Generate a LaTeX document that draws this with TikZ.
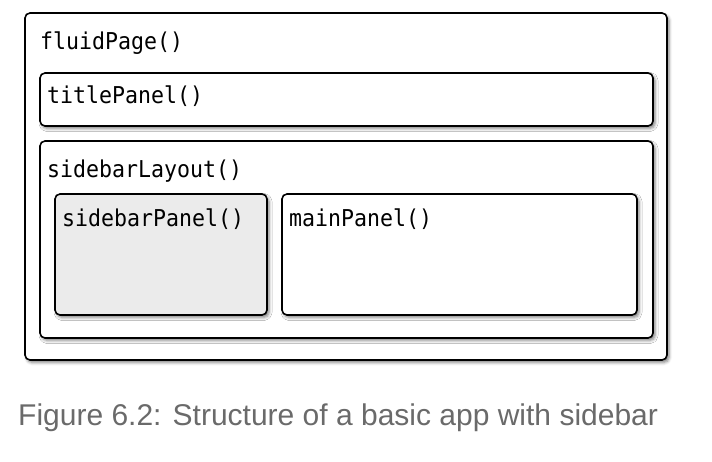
\documentclass[tikz,border=0pt]{standalone}
\usepackage{fontspec}
\setmainfont{Liberation Sans}
\newfontfamily\codefont{DejaVu Sans Mono}
\usetikzlibrary{shadows.blur}
\definecolor{panelgrey}{HTML}{EBEBEB}
\definecolor{captiongrey}{HTML}{6A6A6A}
% monospace labels, slightly condensed
\newcommand{\codetext}[1]{\scalebox{0.93}[1]{\codefont\fontsize{23.2}{28}\selectfont #1}}
\begin{document}
\begin{tikzpicture}[x=1pt,y=-1pt,
  panel/.style={draw=black, line width=1.6pt, rounded corners=5pt, fill=white,
    rectangle, inner sep=0pt, outer sep=0pt, anchor=north west,
    blur shadow={shadow xshift=2pt, shadow yshift=-2.5pt, shadow blur radius=3pt, shadow opacity=50}},
  code/.style={inner sep=0pt, anchor=base west},
  caption/.style={font=\fontsize{30}{36}\selectfont, text=captiongrey, inner sep=0pt, anchor=base west}]
  \useasboundingbox (0,0) rectangle (712,462);

  % nested layout boxes
  \node[panel, minimum width=642pt, minimum height=347pt] (fluid) at (25,13) {};
  \node[panel, minimum width=613pt, minimum height=53pt] (title) at (40,73) {};
  \node[panel, minimum width=613pt, minimum height=197pt] (layout) at (40,141) {};
  \node[panel, fill=panelgrey, minimum width=212pt, minimum height=121pt] (sidebar) at (55,194) {};
  \node[panel, minimum width=355pt, minimum height=121pt] (main) at (282,194) {};

  % function names
  \node[code] (fluidlbl) at (40,50) {\codetext{fluidPage()}};
  \node[code] (titlelbl) at (47,104) {\codetext{titlePanel()}};
  \node[code] (layoutlbl) at (47,178) {\codetext{sidebarLayout()}};
  \node[code] (sidebarlbl) at (62,227) {\codetext{sidebarPanel()}};
  \node[code] (mainlbl) at (289,227) {\codetext{mainPanel()}};

  % caption
  \node[caption] (cap) at (18,425) {Figure 6.2: Structure of a basic app with sidebar};
\end{tikzpicture}
\end{document}
